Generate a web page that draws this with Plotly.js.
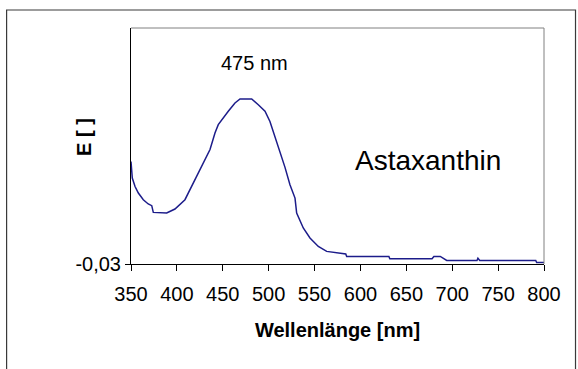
<!DOCTYPE html>
<html>
<head>
<meta charset="utf-8">
<script src="https://cdn.plot.ly/plotly-3.0.1.min.js"></script>
<style>html,body{margin:0;padding:0;background:#fff;}#chart{width:578px;height:369px;}</style>
</head>
<body>
<div id="chart"></div>
<script>
// Wavelength (nm)
var wavelength = [350, 351.4, 354.4, 358, 363.4, 368.8, 372.6, 374.3, 388.9, 393, 397.9, 408.8, 419.7, 428.8, 436.1, 441.5, 445.1, 456, 463.3, 468.8, 481.5, 488.7, 496, 501.4, 510.5, 517.8, 523.2, 528.7, 530.5, 537.7, 545, 554.1, 563.2, 574.1, 584, 585, 631, 632, 678, 680, 687, 694, 727, 728, 730, 791, 792, 800];
// Extinction E
var extinction = [0.200, 0.163, 0.144, 0.1295, 0.1144, 0.1048, 0.101, 0.0859, 0.0845, 0.089, 0.0935, 0.1144, 0.159, 0.197, 0.227, 0.264, 0.283, 0.313, 0.3316, 0.3406, 0.3406, 0.3278, 0.313, 0.290, 0.234, 0.187, 0.148, 0.118, 0.0845, 0.0509, 0.0284, 0.0095, -0.0017, -0.0053, -0.0075, -0.013, -0.013, -0.018, -0.018, -0.013, -0.013, -0.022, -0.022, -0.017, -0.022, -0.022, -0.0265, -0.0265];
var xTicks = [350, 400, 450, 500, 550, 600, 650, 700, 750, 800];
var yTicks = [-0.03];
var yTickLabels = ['-0,03'];

var font = 'Liberation Sans, Arial, sans-serif';

var trace = {
  x: wavelength,
  y: extinction,
  type: 'scatter',
  mode: 'lines',
  line: {color: '#1c1c8a', width: 1.5},
  hoverinfo: 'x+y',
  showlegend: false,
  cliponaxis: false
};

var layout = {
  width: 578,
  height: 369,
  margin: {l: 131, r: 34, t: 28, b: 105, pad: 0},
  paper_bgcolor: '#fff',
  plot_bgcolor: '#fff',
  font: {family: font, color: '#000'},
  xaxis: {
    range: [350, 800],
    tickvals: xTicks,
    ticktext: xTicks.map(String),
    ticks: 'outside',
    ticklen: 6,
    tickcolor: '#000',
    tickwidth: 1,
    ticklabelstandoff: 6,
    showline: true,
    linecolor: '#000',
    linewidth: 1,
    showgrid: false,
    zeroline: false,
    tickfont: {family: font, size: 20, color: '#000'},
    title: {text: '<b>Wellenlänge [nm]</b>', font: {family: font, size: 20, color: '#000'}, standoff: 18},
    automargin: false,
    fixedrange: true
  },
  yaxis: {
    range: [-0.03, 0.5],
    tickvals: yTicks,
    ticktext: yTickLabels,
    ticks: 'outside',
    ticklen: 5,
    tickcolor: '#000',
    tickwidth: 1,
    showline: true,
    linecolor: '#000',
    linewidth: 1,
    showgrid: false,
    zeroline: false,
    tickfont: {family: font, size: 20, color: '#000'},
    automargin: false,
    fixedrange: true
  },
  shapes: [
    {type: 'rect', xref: 'paper', yref: 'paper', x0: -0.3012, x1: 1.0763, y0: -0.6, y1: 1.0763, line: {color: '#3a3a3a', width: 1.2}},
    {type: 'line', xref: 'paper', yref: 'paper', x0: 0, x1: 1, y0: 1, y1: 1, line: {color: '#808080', width: 1}},
    {type: 'line', xref: 'paper', yref: 'paper', x0: 1, x1: 1, y0: 0, y1: 1, line: {color: '#808080', width: 1}}
  ],
  annotations: [
    {text: '<b>E [ ]</b>', xref: 'paper', yref: 'paper', x: -0.114, y: 0.538, textangle: -90, showarrow: false, font: {family: font, size: 20, color: '#000'}, xanchor: 'center', yanchor: 'middle'},
    {text: '475 nm', xref: 'x', yref: 'y', x: 485, y: 0.4215, showarrow: false, font: {family: font, size: 20, color: '#000'}, xanchor: 'center', yanchor: 'middle'},
    {text: 'Astaxanthin', xref: 'x', yref: 'y', x: 674, y: 0.202, showarrow: false, font: {family: font, size: 28, color: '#000'}, xanchor: 'center', yanchor: 'middle'}
  ]
};

Plotly.newPlot('chart', [trace], layout, {displayModeBar: false, staticPlot: true});
</script>
</body>
</html>
